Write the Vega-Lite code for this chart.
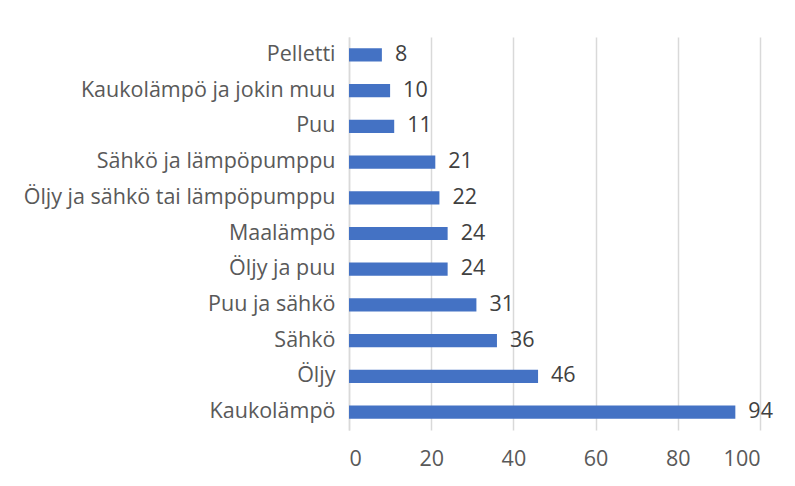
{
  "$schema": "https://vega.github.io/schema/vega-lite/v6.json",
  "width": 411,
  "height": 393,
  "autosize": {"type": "none"},
  "padding": {"left": 349, "top": 37, "right": 35, "bottom": 56},
  "background": "white",
  "config": {
    "view": {"stroke": null},
    "font": "Open Sans"
  },
  "data": {
    "values": [
      {"lahde": "Pelletti", "n": 8},
      {"lahde": "Kaukolämpö ja jokin muu", "n": 10},
      {"lahde": "Puu", "n": 11},
      {"lahde": "Sähkö ja lämpöpumppu", "n": 21},
      {"lahde": "Öljy ja sähkö tai lämpöpumppu", "n": 22},
      {"lahde": "Maalämpö", "n": 24},
      {"lahde": "Öljy ja puu", "n": 24},
      {"lahde": "Puu ja sähkö", "n": 31},
      {"lahde": "Sähkö", "n": 36},
      {"lahde": "Öljy", "n": 46},
      {"lahde": "Kaukolämpö", "n": 94}
    ]
  },
  "encoding": {
    "y": {
      "field": "lahde",
      "type": "nominal",
      "sort": null,
      "scale": {"paddingInner": 0.63, "paddingOuter": 0.315},
      "axis": {
        "title": null,
        "ticks": false,
        "labelPadding": 14,
        "labelFontSize": 21.5,
        "labelColor": "#595959",
        "domainColor": "#d9d9d9",
        "domainWidth": 1.5,
        "grid": false,
        "labelLimit": 400
      }
    },
    "x": {
      "field": "n",
      "type": "quantitative",
      "scale": {"domain": [0, 100]},
      "axis": {
        "title": null,
        "values": [0, 20, 40, 60, 80, 100],
        "ticks": false,
        "domain": false,
        "grid": true,
        "gridColor": "#d9d9d9",
        "gridWidth": 1.5,
        "labelFontSize": 21.5,
        "labelColor": "#595959",
        "labelPadding": 18
      }
    }
  },
  "layer": [
    {"mark": {"type": "bar", "color": "#4472C4"}},
    {
      "mark": {"type": "text", "align": "left", "baseline": "middle", "dx": 13, "fontSize": 21.5, "color": "#404040"},
      "encoding": {"text": {"field": "n", "type": "quantitative"}}
    }
  ]
}
